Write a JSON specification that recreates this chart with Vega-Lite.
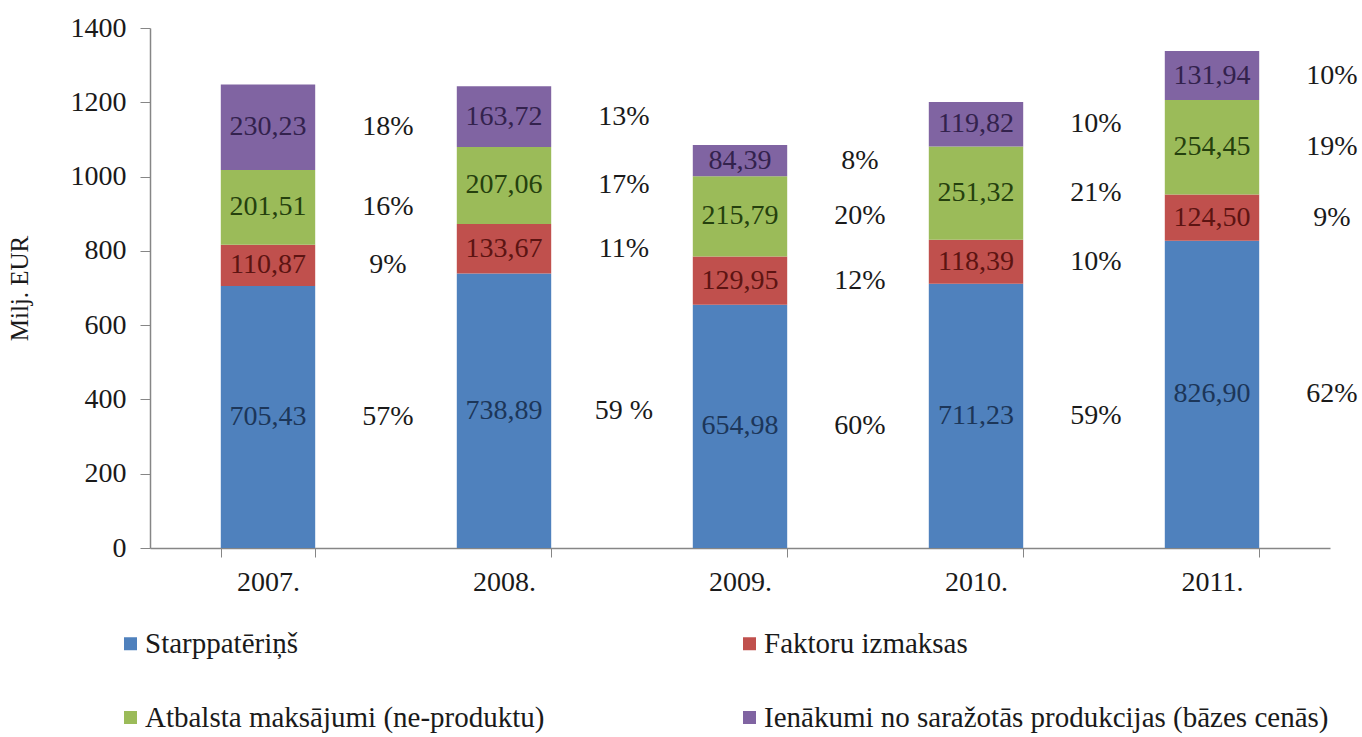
{
  "$schema": "https://vega.github.io/schema/vega-lite/v6.json",
  "width": 1180,
  "height": 520,
  "autosize": {"type": "none"},
  "padding": {"left": 150, "top": 28, "right": 32, "bottom": 189},
  "background": "white",
  "config": {
    "locale": {"number": {"decimal": ",", "thousands": " ", "grouping": [3], "currency": ["", " €"]}},
    "view": {"stroke": null},
    "font": "Liberation Serif",
    "axis": {"labelFont": "Liberation Serif", "titleFont": "Liberation Serif", "domainColor": "#868686", "tickColor": "#868686", "labelColor": "#1a1a1a", "titleColor": "#1a1a1a", "grid": false}
  },
  "data": {
    "values": [
      {"year": "2007.", "series": "Starppatēriņš", "value": 705.43, "pct": "57%"},
      {"year": "2007.", "series": "Faktoru izmaksas", "value": 110.87, "pct": "9%"},
      {"year": "2007.", "series": "Atbalsta maksājumi (ne-produktu)", "value": 201.51, "pct": "16%"},
      {"year": "2007.", "series": "Ienākumi no saražotās produkcijas (bāzes cenās)", "value": 230.23, "pct": "18%"},
      {"year": "2008.", "series": "Starppatēriņš", "value": 738.89, "pct": "59 %"},
      {"year": "2008.", "series": "Faktoru izmaksas", "value": 133.67, "pct": "11%"},
      {"year": "2008.", "series": "Atbalsta maksājumi (ne-produktu)", "value": 207.06, "pct": "17%"},
      {"year": "2008.", "series": "Ienākumi no saražotās produkcijas (bāzes cenās)", "value": 163.72, "pct": "13%"},
      {"year": "2009.", "series": "Starppatēriņš", "value": 654.98, "pct": "60%"},
      {"year": "2009.", "series": "Faktoru izmaksas", "value": 129.95, "pct": "12%"},
      {"year": "2009.", "series": "Atbalsta maksājumi (ne-produktu)", "value": 215.79, "pct": "20%"},
      {"year": "2009.", "series": "Ienākumi no saražotās produkcijas (bāzes cenās)", "value": 84.39, "pct": "8%"},
      {"year": "2010.", "series": "Starppatēriņš", "value": 711.23, "pct": "59%"},
      {"year": "2010.", "series": "Faktoru izmaksas", "value": 118.39, "pct": "10%"},
      {"year": "2010.", "series": "Atbalsta maksājumi (ne-produktu)", "value": 251.32, "pct": "21%"},
      {"year": "2010.", "series": "Ienākumi no saražotās produkcijas (bāzes cenās)", "value": 119.82, "pct": "10%"},
      {"year": "2011.", "series": "Starppatēriņš", "value": 826.90, "pct": "62%"},
      {"year": "2011.", "series": "Faktoru izmaksas", "value": 124.50, "pct": "9%"},
      {"year": "2011.", "series": "Atbalsta maksājumi (ne-produktu)", "value": 254.45, "pct": "19%"},
      {"year": "2011.", "series": "Ienākumi no saražotās produkcijas (bāzes cenās)", "value": 131.94, "pct": "10%"}
    ]
  },
  "transform": [
    {"calculate": "indexof(['Starppatēriņš','Faktoru izmaksas','Atbalsta maksājumi (ne-produktu)','Ienākumi no saražotās produkcijas (bāzes cenās)'], datum.series)", "as": "k"},
    {"stack": "value", "groupby": ["year"], "sort": [{"field": "k", "order": "ascending"}], "as": ["v0", "v1"]},
    {"calculate": "(datum.v0 + datum.v1) / 2", "as": "mid"}
  ],
  "encoding": {
    "x": {
      "field": "year", "type": "nominal", "sort": null,
      "scale": {"paddingInner": 0.6, "paddingOuter": 0.3},
      "axis": {"title": null, "labelAngle": 0, "labelFontSize": 28, "tickBand": "extent", "tickSize": 9, "labelPadding": 11, "domainWidth": 1.5}
    }
  },
  "layer": [
    {
      "mark": {"type": "bar"},
      "encoding": {
        "y": {
          "field": "v0", "type": "quantitative",
          "scale": {"domain": [0, 1400], "nice": false},
          "axis": {"title": "Milj. EUR", "format": "d", "titleFontSize": 25, "titleFontWeight": "normal", "titlePadding": 38, "values": [0, 200, 400, 600, 800, 1000, 1200, 1400], "labelFontSize": 28, "tickSize": 10, "labelPadding": 14, "domainWidth": 1.5}
        },
        "y2": {"field": "v1"},
        "color": {
          "field": "series", "type": "nominal",
          "scale": {
            "domain": ["Starppatēriņš", "Faktoru izmaksas", "Atbalsta maksājumi (ne-produktu)", "Ienākumi no saražotās produkcijas (bāzes cenās)"],
            "range": ["#4F81BD", "#C0504D", "#9BBB59", "#8064A2"]
          },
          "legend": {
            "title": null, "orient": "none", "legendX": -34, "legendY": 601,
            "direction": "horizontal", "columns": 2,
            "symbolType": "square", "symbolSize": 169, "symbolStrokeWidth": 0,
            "labelFont": "Liberation Serif", "labelFontSize": 29, "labelColor": "#1a1a1a",
            "labelLimit": 800, "labelOffset": 0,
            "rowPadding": 44, "columnPadding": 190
          }
        }
      }
    },
    {
      "mark": {"type": "text", "fontSize": 28, "font": "Liberation Serif", "baseline": "middle"},
      "encoding": {
        "y": {"field": "mid", "type": "quantitative"},
        "text": {"field": "value", "type": "quantitative", "format": ".2f"},
        "color": {
          "field": "series", "type": "nominal",
          "scale": {
            "domain": ["Starppatēriņš", "Faktoru izmaksas", "Atbalsta maksājumi (ne-produktu)", "Ienākumi no saražotās produkcijas (bāzes cenās)"],
            "range": ["#1c3659", "#5c1412", "#25400e", "#33224d"]
          },
          "legend": null
        }
      }
    },
    {
      "mark": {"type": "text", "fontSize": 28, "font": "Liberation Serif", "baseline": "middle", "dx": 120, "color": "#1a1a1a"},
      "encoding": {
        "y": {"field": "mid", "type": "quantitative"},
        "text": {"field": "pct"}
      }
    }
  ],
  "resolve": {"scale": {"color": "independent"}}
}
